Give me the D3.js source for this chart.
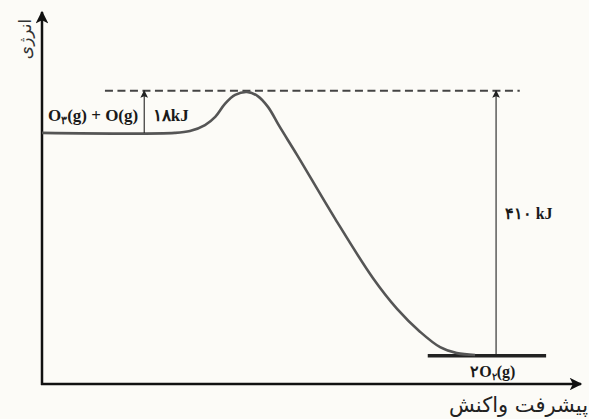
<!DOCTYPE html>
<html>
<head>
<meta charset="utf-8">
<script src="https://cdnjs.cloudflare.com/ajax/libs/d3/7.8.5/d3.min.js"></script>
<style>
  html, body { margin: 0; padding: 0; background: #fcfbf7; }
  svg { display: block; }
</style>
</head>
<body>
<div id="chart"></div>
<script>
// Reaction progress (0-100) and energy (arbitrary units 0-100)
const progress = [0, 24.7, 27.5, 30.3, 32.2, 34.0, 35.9, 38.1, 40.1, 42.0, 44.2, 47.4, 54.5, 61.5, 66.0, 70.3, 74.0, 77.1, 80.5];
const energy   = [67.5, 67.5, 68.0, 69.6, 71.8, 75.3, 77.7, 78.5, 77.4, 74.5, 69.1, 61.6, 44.4, 28.5, 20.2, 14.0, 9.9, 8.3, 7.8];

// Levels and where the markers stand
const peakLevel = 78.8;
const reactantLevel = 67.5;
const productLevel = 7.6;
const dashedRange = [11.7, 88.8];
const productBar = [71.7, 93.7];
const activationAt = 19.0;
const overallAt = 84.4;

// Texts
const yLabel = "انرژی";
const xLabel = "پیشرفت واکنش";
const activationLabel = "۱۸kJ";
const overallLabel = "۴۱۰ kJ";

const width = 589, height = 419;
const x0 = 42, y0 = 384;

const x = d3.scaleLinear().domain([0, 100]).range([x0, 580]);
const y = d3.scaleLinear().domain([0, 100]).range([y0, 12]);

const svg = d3.select("#chart").append("svg")
    .attr("width", width)
    .attr("height", height);

const defs = svg.append("defs");
defs.append("marker")
    .attr("id", "axisHead")
    .attr("viewBox", "0 0 10 10")
    .attr("refX", 9).attr("refY", 5)
    .attr("markerWidth", 6).attr("markerHeight", 5)
    .attr("markerUnits", "strokeWidth")
    .attr("orient", "auto")
    .append("path").attr("d", "M0,0 L10,5 L0,10 L2.5,5 Z").attr("fill", "#111");
defs.append("marker")
    .attr("id", "thinHead")
    .attr("viewBox", "0 0 10 10")
    .attr("refX", 9).attr("refY", 5)
    .attr("markerWidth", 10).attr("markerHeight", 7)
    .attr("markerUnits", "strokeWidth")
    .attr("orient", "auto")
    .append("path").attr("d", "M0,0 L10,5 L0,10 L2,5 Z").attr("fill", "#222");

// Axes
svg.append("line")
    .attr("x1", x(0)).attr("y1", y(0) + 1)
    .attr("x2", x(0)).attr("y2", 12)
    .attr("stroke", "#111").attr("stroke-width", 2.5)
    .attr("marker-end", "url(#axisHead)");
svg.append("line")
    .attr("x1", x(0) - 1).attr("y1", y(0))
    .attr("x2", 581).attr("y2", y(0))
    .attr("stroke", "#111").attr("stroke-width", 2.5)
    .attr("marker-end", "url(#axisHead)");

// Dashed transition-state level
svg.append("line")
    .attr("x1", x(dashedRange[0])).attr("x2", x(dashedRange[1]))
    .attr("y1", y(peakLevel)).attr("y2", y(peakLevel))
    .attr("stroke", "#444").attr("stroke-width", 2)
    .attr("stroke-dasharray", "8,4.5");

// Product level bar
svg.append("line")
    .attr("x1", x(productBar[0])).attr("x2", x(productBar[1]))
    .attr("y1", y(productLevel)).attr("y2", y(productLevel))
    .attr("stroke", "#222").attr("stroke-width", 3.5);

// Energy curve
const pts = progress.map((p, i) => [p, energy[i]]);
const line = d3.line()
    .x(d => x(d[0]))
    .y(d => y(d[1]))
    .curve(d3.curveCatmullRom.alpha(0.5));
svg.append("path")
    .datum(pts)
    .attr("d", line)
    .attr("fill", "none")
    .attr("stroke", "#555")
    .attr("stroke-width", 2.6)
    .attr("stroke-linejoin", "round");

// Energy arrows
svg.append("line")
    .attr("x1", x(activationAt)).attr("x2", x(activationAt))
    .attr("y1", y(reactantLevel)).attr("y2", y(peakLevel))
    .attr("stroke", "#222").attr("stroke-width", 1.1)
    .attr("marker-end", "url(#thinHead)");
svg.append("line")
    .attr("x1", x(overallAt)).attr("x2", x(overallAt))
    .attr("y1", y(productLevel)).attr("y2", y(peakLevel))
    .attr("stroke", "#222").attr("stroke-width", 1.1)
    .attr("marker-end", "url(#thinHead)");

const serif = "'Liberation Serif', 'DejaVu Serif', serif";

// Reactant label: O3(g) + O(g)
const r = svg.append("text")
    .attr("x", x(1.1)).attr("y", 121)
    .attr("font-family", serif).attr("font-weight", "bold")
    .attr("font-size", 17).attr("fill", "#1a1a1a");
r.append("tspan").text("O");
r.append("tspan").attr("dy", 3).attr("font-size", 11).text("۳");
r.append("tspan").attr("dy", -3).text("(g) + O(g)");

svg.append("text")
    .attr("x", x(20.6)).attr("y", 121)
    .attr("font-family", serif).attr("font-weight", "bold")
    .attr("font-size", 17).attr("fill", "#1a1a1a")
    .text(activationLabel);

svg.append("text")
    .attr("x", x(86.0)).attr("y", 219)
    .attr("font-family", serif).attr("font-weight", "bold")
    .attr("font-size", 16).attr("fill", "#1a1a1a")
    .text(overallLabel);

// Product label: 2O2(g)
const p = svg.append("text")
    .attr("x", x(79.6)).attr("y", 377)
    .attr("font-family", serif).attr("font-weight", "bold")
    .attr("font-size", 16).attr("fill", "#1a1a1a");
p.append("tspan").text("۲O");
p.append("tspan").attr("dy", 3).attr("font-size", 10).text("۲");
p.append("tspan").attr("dy", -3).text("(g)");

// Axis titles
svg.append("text")
    .attr("transform", "translate(31,39) rotate(-90)")
    .attr("text-anchor", "middle")
    .attr("direction", "rtl")
    .attr("font-family", "'DejaVu Sans', sans-serif")
    .attr("font-size", 17).attr("fill", "#333")
    .text(yLabel);

svg.append("text")
    .attr("x", 588).attr("y", 412)
    .attr("text-anchor", "start")
    .attr("direction", "rtl")
    .attr("font-family", "'DejaVu Sans', sans-serif")
    .attr("font-size", 21).attr("fill", "#222")
    .text(xLabel);
</script>
</body>
</html>
